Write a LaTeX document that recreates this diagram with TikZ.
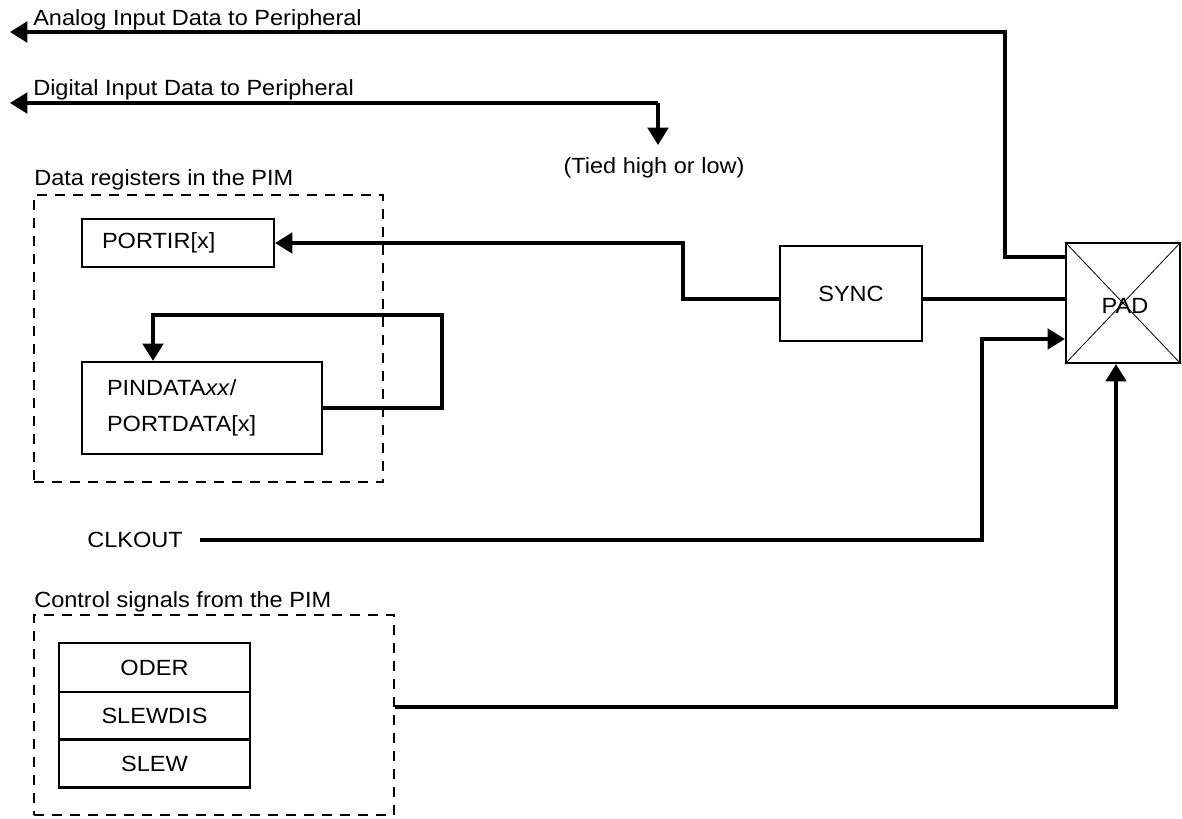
\documentclass[tikz,border=0pt]{standalone}
\usepackage{fontspec}
\setmainfont{Liberation Sans}[FakeStretch=1.07]
\usetikzlibrary{arrows.meta}
\begin{document}
\begin{tikzpicture}[x=0.75pt,y=-0.75pt,
  every node/.style={font=\fontsize{16.5pt}{27pt}\selectfont},
  box/.style={draw,line width=1.7pt,inner sep=0pt},
  grp/.style={draw,line width=1.6pt,dash pattern=on 7.5pt off 6pt,inner sep=0pt},
  wire/.style={line width=2.4pt},
  arr/.style={wire,-{Triangle[length=13pt,width=15.5pt]}},
  lbl/.style={anchor=base west,inner sep=0pt}
]
\useasboundingbox (0,0) rectangle (1182,818);

% group boxes
\node[grp,minimum width=261.75pt,minimum height=215.25pt] (dgrp) at (208.5,338.5) {};
\node[grp,minimum width=270pt,minimum height=150pt] (cgrp) at (214,715) {};
\node[lbl] (dlbl) at (34,185) {Data registers in the PIM};
\node[lbl] (clbl) at (34,607) {Control signals from the PIM};

% registers
\node[box,minimum width=144pt,minimum height=36pt,text width=114pt,inner xsep=15pt,align=left] (portir) at (178,243) {PORTIR[x]};
\node[box,minimum width=180pt,minimum height=69pt,text width=142.5pt,inner xsep=18.75pt,align=left] (pindata) at (202,408) {PINDATA\textit{xx}/\\PORTDATA[x]};

% control stack
\node[box,minimum width=143.25pt,minimum height=36.4pt] (oder) at (154.5,667.5) {ODER};
\node[box,minimum width=143.25pt,minimum height=36.4pt] (slewdis) at (154.5,716) {SLEWDIS};
\node[box,minimum width=143.25pt,minimum height=36pt] (slew) at (154.5,763.5) {SLEW};

% sync and pad
\node[box,minimum width=106.5pt,minimum height=71.25pt] (sync) at (851,293.5) {SYNC};
\node[box,minimum width=85.5pt,minimum height=90pt] (pad) at (1123,303) {};
\draw[line width=0.6pt] (pad.north west) -- (pad.south east) (pad.north east) -- (pad.south west);
\node[inner sep=0pt,anchor=base] (padt) at (1125,313) {PAD};

% top labels
\node[lbl] (altxt) at (33,25) {Analog Input Data to Peripheral};
\node[lbl] (dgtxt) at (33,95) {Digital Input Data to Peripheral};
\node[inner sep=0pt,anchor=base] (tied) at (654,173) {(Tied high or low)};
\node[lbl] (clk) at (87,547) {CLKOUT};

\coordinate (aend) at (10,32);
\coordinate (dend) at (10,103);
\coordinate (tend) at (658,145);

% connectors
\draw[arr] (pad.west |- 0,257) -- (1005,257) -- (1005,32) -- (aend);
\draw[arr] (tend |- 0,103) -- (dend);
\draw[arr] (658,103) -- (tend);
\draw[arr] (sync.west |- 0,299) -- (683,299) -- (683,243) -- (portir.east);
\draw[wire] (sync.east |- 0,299) -- (pad.west |- 0,299);
\draw[arr] (pindata.east |- 0,408) -- (442,408) -- (442,315) -- (153,315) -- (pindata.north -| 153,0);
\draw[arr] (200,540) -- (982,540) -- (982,339) -- (pad.west |- 0,339);
\draw[arr] (cgrp.east |- 0,707) -- (1116,707) -- (pad.south -| 1116,0);
\end{tikzpicture}
\end{document}
